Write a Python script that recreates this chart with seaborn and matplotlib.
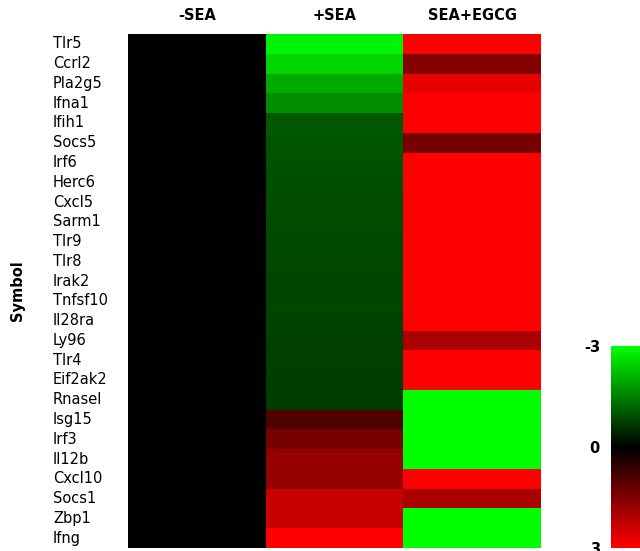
import numpy as np
import pandas as pd
import matplotlib
matplotlib.use("Agg")
import matplotlib.pyplot as plt
from matplotlib.colors import LinearSegmentedColormap
import seaborn as sns

genes = ["Tlr5", "Ccrl2", "Pla2g5", "Ifna1", "Ifih1", "Socs5", "Irf6", "Herc6",
         "Cxcl5", "Sarm1", "Tlr9", "Tlr8", "Irak2", "Tnfsf10", "Il28ra", "Ly96",
         "Tlr4", "Eif2ak2", "Rnasel", "Isg15", "Irf3", "Il12b", "Cxcl10", "Socs1",
         "Zbp1", "Ifng"]
conditions = ["-SEA", "+SEA", "SEA+EGCG"]

minus_sea = [0.0] * 26
plus_sea = [-2.85, -2.5, -2.0, -1.65, -1.05, -1.0, -0.95, -0.92, -0.9, -0.88,
            -0.86, -0.84, -0.82, -0.8, -0.78, -0.76, -0.74, -0.72, -0.7,
            0.95, 1.4, 1.75, 1.75, 2.35, 2.35, 3.0]
sea_egcg = [3.0, 1.55, 2.7, 3.0, 3.0, 1.4, 3.0, 3.0, 3.0, 3.0, 3.0, 3.0, 3.0,
            3.0, 3.0, 2.0, 3.0, 3.0, -3.0, -3.0, -3.0, -3.0, 3.0, 2.0, -3.0, -3.0]

df = pd.DataFrame({conditions[0]: minus_sea,
                   conditions[1]: plus_sea,
                   conditions[2]: sea_egcg}, index=genes)

cmap = LinearSegmentedColormap.from_list("grn_blk_red", [(0, 1, 0), (0, 0, 0), (1, 0, 0)])

sns.set_style("white")
plt.rcParams["font.family"] = ["DejaVu Sans"]
plt.rcParams["text.color"] = "black"
plt.rcParams["xtick.color"] = "black"
plt.rcParams["ytick.color"] = "black"
plt.rcParams["axes.labelcolor"] = "black"

fig = plt.figure(figsize=(6.4, 5.51), dpi=100)
ax = fig.add_axes([128 / 640, 1 - 548 / 551, (541 - 128) / 640, (548 - 34) / 551])
cax = fig.add_axes([611 / 640, 1 - 548 / 551, 0.06, (548 - 346) / 551])

sns.heatmap(df, ax=ax, cmap=cmap, vmin=-3, vmax=3, cbar=True, cbar_ax=cax)

ax.xaxis.tick_top()
ax.set_xticklabels(conditions, fontsize=10.5, fontweight="bold")
ax.tick_params(axis="x", length=0, pad=8)
ax.tick_params(axis="y", length=0)
ax.set_yticklabels(genes, fontsize=10.5, rotation=0, ha="left")
for lbl in ax.get_yticklabels():
    lbl.set_x(-0.17)
ax.set_ylabel("Symbol", fontsize=10.5, fontweight="bold", labelpad=0)
ax.yaxis.set_label_coords(-0.25, 0.5)
ax.set_xlabel("")

cax.invert_yaxis()
cax.yaxis.set_ticks_position("left")
cax.set_yticks([-3, 0, 3])
cax.set_yticklabels(["-3", "0", "3"], fontsize=10.5, fontweight="bold")
cax.tick_params(length=0, pad=8)
for s in cax.spines.values():
    s.set_visible(False)

fig.savefig("out.png", dpi=100)
